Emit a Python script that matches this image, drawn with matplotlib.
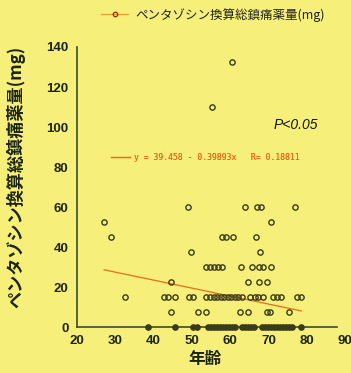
import matplotlib
matplotlib.use("Agg")
import matplotlib.pyplot as plt
from matplotlib.lines import Line2D
import numpy as np

# age (years) vs pentazocine-equivalent analgesic dose (mg)
age = [
    49.1, 63.9, 66.9, 68.0, 76.9,                                  # 60
    27.1, 70.8,                                                    # 52.5
    28.9, 57.9, 58.9, 60.8, 66.7,                                  # 45
    49.8, 67.8,                                                    # 37.5
    53.7, 54.7, 55.8, 56.8, 57.9, 62.8, 65.6, 67.5, 68.5, 70.6,    # 30
    44.7, 64.7, 67.5, 69.7,                                        # 22.5
    32.6, 42.7, 43.8, 45.6, 49.4, 50.4, 53.7, 54.7, 55.7, 56.6,
    57.5, 58.4, 59.4, 60.3, 61.2, 62.1, 63.0, 65.3, 66.4, 67.4,
    68.5, 71.3, 72.3, 73.4, 77.5, 78.6,                            # 15
    44.7, 51.5, 53.7, 62.6, 64.7, 69.7, 70.4, 75.4,                # 7.5
    38.5, 45.5, 50.4, 51.4, 54.2, 55.0, 55.8, 56.6, 57.4, 58.2,
    59.0, 59.8, 60.6, 61.3, 63.0, 63.8, 64.6, 65.4, 66.2, 68.2,
    69.0, 69.8, 70.6, 71.4, 72.2, 73.0, 73.8, 74.6, 75.4, 76.2,
    78.4,                                                          # 0
    55.4, 60.5,                                                    # outliers
]
dose = [
    60, 60, 60, 60, 60,
    52.5, 52.5,
    45, 45, 45, 45, 45,
    37.5, 37.5,
    30, 30, 30, 30, 30, 30, 30, 30, 30, 30,
    22.5, 22.5, 22.5, 22.5,
    15, 15, 15, 15, 15, 15, 15, 15, 15, 15,
    15, 15, 15, 15, 15, 15, 15, 15, 15, 15,
    15, 15, 15, 15, 15, 15,
    7.5, 7.5, 7.5, 7.5, 7.5, 7.5, 7.5, 7.5,
    0, 0, 0, 0, 0, 0, 0, 0, 0, 0,
    0, 0, 0, 0, 0, 0, 0, 0, 0, 0,
    0, 0, 0, 0, 0, 0, 0, 0, 0, 0,
    0,
    110, 132.5,
]

intercept = 39.458
slope = -0.39893
r_value = 0.18811

x_ticks = [20, 30, 40, 50, 60, 70, 80, 90]
y_ticks = [0, 20, 40, 60, 80, 100, 120, 140]
series_label = "ペンタゾシン換算総鎮痛薬量(mg)"

bg = "#f6f07a"
axis_col = "#35502a"
mark_col = "#3a3a1c"
trend_col = "#ec6a1c"

plt.rcParams["font.family"] = ["Liberation Sans", "Noto Sans CJK JP", "DejaVu Sans"]

fig = plt.figure(figsize=(3.51, 3.73), dpi=100, facecolor=bg)
ax = fig.add_axes([0.219, 0.123, 0.764, 0.751], facecolor=bg)

a = np.array(age)
d = np.array(dose)
zero = d == 0
ax.plot(a[~zero], d[~zero], "o", ms=3.8, mfc="none", mec=mark_col, mew=1.0,
        clip_on=False, zorder=3)
ax.plot(a[zero], d[zero], "o", ms=3.8, mfc=mark_col, mec=mark_col, mew=1.0,
        clip_on=False, zorder=3)

xs = np.array([a.min(), a.max()])
ax.plot(xs, intercept + slope * xs, color=trend_col, lw=0.9, zorder=2)

ax.set_xlim(20, 90)
ax.set_ylim(0, 140)
ax.set_xticks(x_ticks)
ax.set_yticks(y_ticks)
ax.tick_params(length=0, labelsize=9.5, colors="#1c2414", pad=6)
for lab in ax.get_xticklabels() + ax.get_yticklabels():
    lab.set_fontweight("bold")
for side in ["top", "right"]:
    ax.spines[side].set_visible(False)
for side in ["left", "bottom"]:
    ax.spines[side].set_color(axis_col)
    ax.spines[side].set_linewidth(1.2)
ax.spines["bottom"].set_bounds(20, 88)

eq = f"y = {intercept} - {abs(slope)}x   R= {r_value}"
leg_eq = ax.legend(handles=[Line2D([], [], color=trend_col, lw=0.9)], labels=[eq],
                   loc="center left", bbox_to_anchor=(0.1, 0.607), frameon=False,
                   handlelength=2.4, handletextpad=0.5,
                   prop={"family": "DejaVu Sans Mono", "size": 5.8},
                   labelcolor=trend_col)
ax.add_artist(leg_eq)

ax.text(0.815, 0.72, "P<0.05", transform=ax.transAxes, ha="center", va="center",
        fontsize=10, style="italic", color="#111111")

fig.legend(handles=[Line2D([], [], color="#e8a020", lw=0.9, marker="o", ms=3.2,
                           mfc="none", mec="#8a2a10", mew=0.9)],
           labels=[series_label], loc="center left",
           bbox_to_anchor=(0.255, 0.96), frameon=False, handlelength=2.2,
           handletextpad=0.6, prop={"family": ["Noto Sans CJK JP"], "size": 9},
           labelcolor="#222222")

fig.text(0.045, 0.525, series_label, rotation=90, ha="center", va="center",
         fontsize=12.3, fontweight="bold", family=["Noto Sans CJK JP"], color="#1c2414")
fig.text(0.584, 0.038, "年齢", ha="center", va="center",
         fontsize=12, fontweight="bold", family=["Noto Sans CJK JP"], color="#1c2414")

fig.savefig("out.png", dpi=100, facecolor=bg)
